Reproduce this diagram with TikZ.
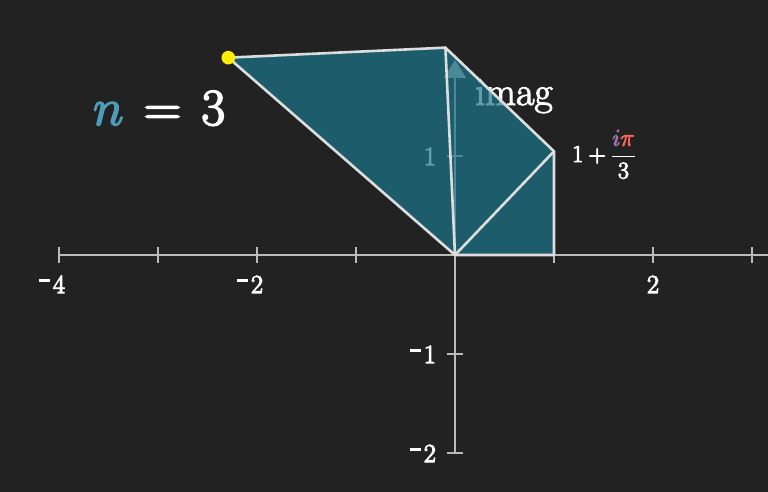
\documentclass[tikz,border=0pt]{standalone}
\usepackage{fix-cm}
\usetikzlibrary{arrows.meta}
\definecolor{bg}{HTML}{222222}
\definecolor{axisgray}{HTML}{BBBBBB}
\definecolor{edgegray}{HTML}{DDDDDD}
\definecolor{tealfill}{HTML}{1C758A}
\definecolor{nblue}{HTML}{4C9DBA}
\definecolor{ipurple}{HTML}{9A72AC}
\definecolor{pired}{HTML}{FC6255}
\definecolor{dotyellow}{HTML}{FFEE00}
\newcommand\mysign{\rule[0.41em]{0.44em}{0.11em}\hspace{0.1em}}
\newcommand\thk[2]{\special{pdf:literal direct #1 w 2 Tr}#2\special{pdf:literal direct 0 Tr}}
\begin{document}
\begin{tikzpicture}[x=99pt,y=99pt,
  axis/.style={draw=axisgray,line width=2pt},
  tickl/.style={font=\fontsize{26}{30}\selectfont, text=white, inner sep=0pt},
  edge/.style={draw=edgegray,line width=2.6pt,line join=round,line cap=round},
  lab/.style={anchor=base west,inner sep=0pt,text=white}]
\fill[bg] (-4.59596,-2.39394) rectangle (3.16162,2.57576);
\useasboundingbox (-4.59596,-2.39394) rectangle (3.16162,2.57576);
% axes
\coordinate (xl) at (-4,0);
\coordinate (xr) at (3.16162,0);
\coordinate (yb) at (0,-2);
\coordinate (yt) at (0,1.97);
\draw[axis] (xl) -- (xr);
\foreach \x in {-4,...,3} \draw[axis] (\x,-0.0808) -- (\x,0.0808);
\foreach \y in {-2,-1,1} \draw[axis] (-0.0808,\y) -- (0.0808,\y);
\draw[axis,-{Triangle[length=18pt,width=22pt]}] (yb) -- (yt);
% tick labels
\node[tickl,anchor=base] (lm4) at (-4,-0.3838) {\llap{\mysign}\thk{1.1}{4}};
\node[tickl,anchor=base] (lm2) at (-2,-0.3838) {\llap{\mysign}\thk{1.1}{2}};
\node[tickl,anchor=base] (lp2) at (2,-0.3838) {\thk{1.1}{2}};
\node[tickl,anchor=base east] (ly1) at (-0.1919,0.9091) {\thk{1.1}{1}};
\node[tickl,anchor=base east] (lym1) at (-0.1919,-1.0909) {\mysign\thk{1.1}{1}};
\node[tickl,anchor=base east] (lym2) at (-0.1919,-2.0909) {\mysign\thk{1.1}{2}};
\node[lab,font=\fontsize{40}{46}\selectfont] (imag) at (0.202,1.515) {\thk{1.0}{imag}};
% polygon
\coordinate (O) at (0,0);
\coordinate (z0) at (1,0);
\coordinate (z1) at (1,1.04720);
\coordinate (z2) at (-0.09662,2.09440);
\coordinate (z3) at (-2.28987,1.99322);
\fill[tealfill,fill opacity=0.7] (O) -- (z0) -- (z1) -- (z2) -- (z3) -- cycle;
\draw[edge] (O) -- (z0) -- (z1) -- (z2) -- (z3) -- cycle;
\draw[edge] (O) -- (z1);
\draw[edge] (O) -- (z2);
\fill[dotyellow] (z3) circle (6.8pt);
% labels
\node[lab,font=\fontsize{52}{60}\selectfont] (nlab) at (-3.657,1.313) {\thk{1.6}{$\textcolor{nblue}{n}\mkern2mu=\mkern2mu3$}};
\node[lab,font=\fontsize{24}{29}\selectfont] (zlab) at (1.1818,0.9394) {\thk{0.9}{$1+\displaystyle\frac{\textcolor{ipurple}{i}\textcolor{pired}{\pi}}{3}$}};
\end{tikzpicture}
\end{document}
